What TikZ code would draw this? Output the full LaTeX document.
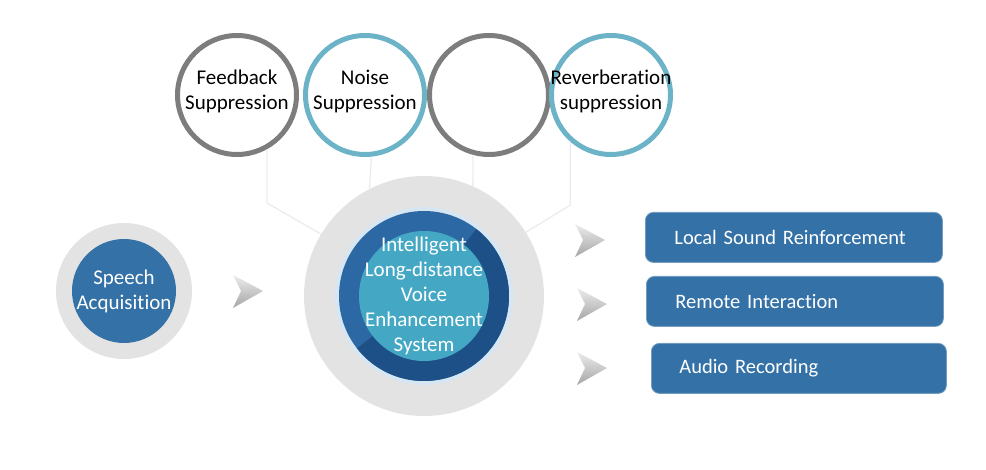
\documentclass[tikz,border=0pt]{standalone}
\usepackage{fontspec}
\setmainfont{Carlito}[Ligatures=NoCommon]
\usetikzlibrary{positioning}
\definecolor{ringgray}{HTML}{7D7D7D}
\definecolor{ringblue}{HTML}{6DB3C8}
\definecolor{halo}{HTML}{E3E3E3}
\definecolor{linkgray}{HTML}{ECECEC}
\definecolor{deepblue}{HTML}{3471A6}
\definecolor{ringdark}{HTML}{2C68A3}
\definecolor{ringdeep}{HTML}{1E5088}
\definecolor{hubteal}{HTML}{44A8C5}
\definecolor{glow}{HTML}{D6E6F2}
\tikzset{
  topic/.style={circle, draw, line width=5pt, minimum size=119pt, inner sep=0pt},
  topictext/.style={align=center, inner sep=0pt, yshift=4pt, font=\fontsize{21}{25}\selectfont},
  disc/.style={circle, inner sep=0pt},
  label/.style={text=white, align=center, inner sep=0pt, font=\fontsize{21}{25}\selectfont},
  link/.style={draw=linkgray, line width=1.3pt},
  outbox/.style={rectangle, rounded corners=8pt, fill=deepblue, draw=deepblue!70!white,
    line width=0.8pt, text=white, minimum height=50pt, text width=239pt, inner xsep=29pt,
    align=left, anchor=north west, font=\fontsize{20.5}{25}\selectfont},
  chev/.style={top color=gray!15, bottom color=gray!70}
}
\begin{document}
\begin{tikzpicture}[x=1pt, y=-1pt]
  \useasboundingbox (0,0) rectangle (986,470);
  % the core: halo, ring and hub
  \node[disc, fill=halo, minimum size=240pt] (core) at (424,296) {};
  \node[disc, fill=glow, minimum size=178pt] (glow) at (core) {};
  \node[disc, fill=ringdark, minimum size=170pt] (ring) at (core) {};
  \fill[ringdeep] (core.center) -- ++(-52:85) arc[start angle=-52, end angle=142, radius=85] -- cycle;
  \node[disc, fill=hubteal, minimum size=130pt] (hub) at (core) {};
  \node[label] (hubtext) at (hub) {Intelligent\\Long-distance\\Voice\\Enhancement\\System};
  % treatments on top
  \node[topic, draw=ringgray] (fb) at (237,95) {};
  \node[topic, draw=ringblue] (ns) at (365,95) {};
  \node[topic, draw=ringgray] (blank) at (489,95) {};
  \node[topic, draw=ringblue] (rv) at (611,95) {};
  \node[topictext] (fbtext) at (fb) {Feedback\\Suppression};
  \node[topictext] (nstext) at (ns) {Noise\\Suppression};
  \node[topictext] (rvtext) at (rv) {Reverberation\\suppression};
  \coordinate (k1) at (fb.-61 |- 0,203);
  \coordinate (k4) at (rv.-131 |- 0,205);
  \draw[link] (fb.-61) -- (k1) -- (core.149);
  \draw[link] (ns.-84) -- (core.117);
  \draw[link] (blank.-105) -- (core.66);
  \draw[link] (rv.-131) -- (k4) -- (core.32);
  % input
  \node[disc, fill=halo, minimum size=136pt] (srcring) at (124,291) {};
  \node[disc, fill=deepblue, minimum size=104pt] (src) at (srcring) {};
  \node[label] (srctext) at (src) {Speech\\Acquisition};
  % outputs
  \node[outbox] (out1) at (645,212) {Local Sound Reinforcement};
  \node[outbox] (out2) at (646,276) {Remote Interaction};
  \node[outbox, inner xsep=28pt] (out3) at (651,343) {Audio Recording};
  \foreach \x/\y in {263/291, 605/240, 607/304, 607/368}
    \shade[chev] (\x,\y) -- ++(-30,-16) -- ++(8,16) -- ++(-8,17) -- cycle;
\end{tikzpicture}
\end{document}
